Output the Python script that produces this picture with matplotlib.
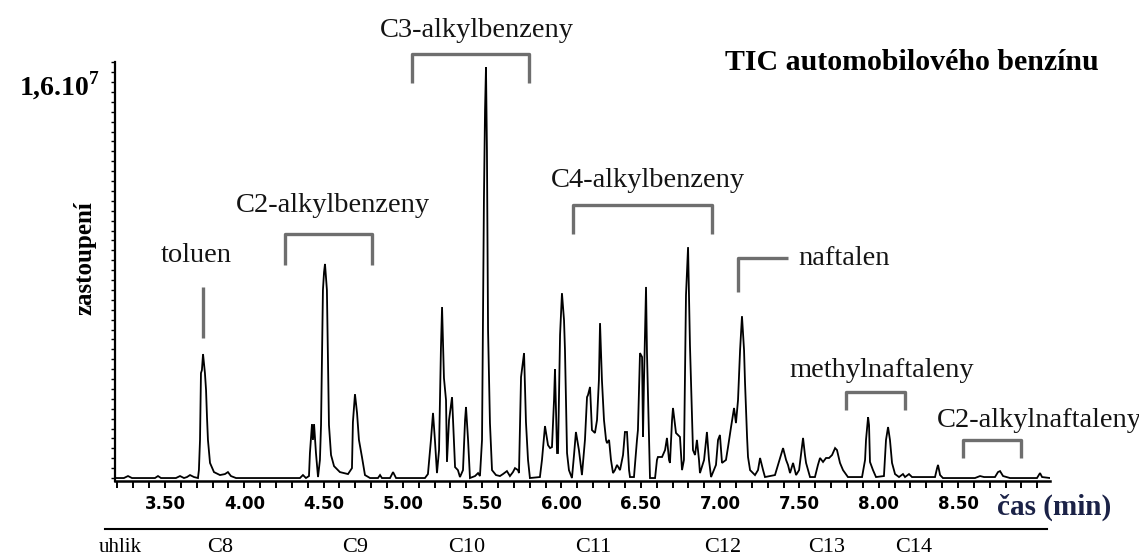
import matplotlib
matplotlib.use("Agg")
import matplotlib.pyplot as plt
from matplotlib.lines import Line2D
from matplotlib.ticker import MultipleLocator, FixedLocator
from matplotlib.transforms import blended_transform_factory

plt.rcParams['font.family'] = ['Liberation Serif', 'DejaVu Serif']
plt.rcParams['mathtext.fontset'] = 'custom'
plt.rcParams['mathtext.rm'] = 'Liberation Serif'
plt.rcParams['mathtext.bf'] = 'Liberation Serif:bold'

# TIC trace of the gasoline sample: retention time [min] and signal [10^6 counts]
time_min = [
    3.185, 3.241, 3.267, 3.292, 3.437, 3.456, 3.475, 3.569, 3.595, 3.620,
    3.639, 3.658, 3.683, 3.708,
    3.714, 3.721, 3.727, 3.733, 3.740, 3.752, 3.759, 3.765, 3.771, 3.784,
    3.809, 3.847, 3.878, 3.897, 3.916, 3.948, 4.351, 4.370, 4.389,
    4.408, 4.414, 4.427, 4.433, 4.440, 4.452, 4.465, 4.477, 4.484, 4.496,
    4.503, 4.509, 4.521, 4.534, 4.547, 4.566, 4.603, 4.654, 4.679, 4.685,
    4.698, 4.711, 4.723, 4.742, 4.761, 4.793, 4.843, 4.856, 4.868, 4.919,
    4.938, 4.957, 5.139,
    5.158, 5.177, 5.190, 5.202, 5.215, 5.228, 5.240, 5.247, 5.259, 5.272,
    5.278, 5.291, 5.310, 5.322, 5.329, 5.347, 5.360, 5.379, 5.392, 5.398,
    5.411, 5.423, 5.455, 5.474, 5.486, 5.499, 5.511, 5.518, 5.524, 5.530,
    5.537, 5.549, 5.562, 5.587, 5.612, 5.631, 5.656, 5.675, 5.694, 5.707,
    5.726, 5.732, 5.745, 5.764, 5.776, 5.789, 5.801, 5.864,
    5.877, 5.896, 5.915, 5.928, 5.940, 5.953, 5.959, 5.972, 5.978, 5.991,
    6.003, 6.016, 6.022, 6.035, 6.047, 6.066, 6.079, 6.091, 6.110, 6.129,
    6.148, 6.161, 6.167, 6.180, 6.192, 6.211, 6.224, 6.236, 6.243, 6.255,
    6.268, 6.281, 6.287, 6.300, 6.312, 6.325, 6.337, 6.350, 6.369, 6.388,
    6.400, 6.413, 6.426, 6.432, 6.457, 6.476, 6.482, 6.495, 6.508, 6.514,
    6.520, 6.533, 6.539, 6.552, 6.558, 6.590, 6.602, 6.608, 6.634, 6.653,
    6.665, 6.678, 6.684, 6.697, 6.703, 6.722, 6.747, 6.760, 6.772, 6.785,
    6.798, 6.810, 6.829, 6.842, 6.854, 6.867, 6.873, 6.899, 6.917, 6.930,
    6.943, 6.974, 6.987, 6.999, 7.012,
    7.037, 7.050, 7.069, 7.088, 7.100, 7.113, 7.126, 7.138, 7.151, 7.157,
    7.170, 7.176, 7.189, 7.220, 7.239, 7.252, 7.271, 7.283, 7.346, 7.371,
    7.384, 7.397, 7.416, 7.428, 7.441, 7.460, 7.479, 7.498, 7.510, 7.523,
    7.535, 7.542, 7.567, 7.598, 7.617, 7.630, 7.649, 7.668, 7.687, 7.706,
    7.725, 7.737, 7.756, 7.775, 7.806,
    7.895, 7.914, 7.920, 7.933, 7.939, 7.945, 7.964, 7.983, 8.033, 8.046,
    8.059, 8.071, 8.084, 8.103, 8.128, 8.153, 8.166, 8.191, 8.210, 8.355,
    8.368, 8.374, 8.387, 8.405, 8.513, 8.607, 8.639, 8.664, 8.733, 8.752,
    8.765, 8.784, 8.828, 8.998, 9.017, 9.030, 9.080,
]
tic = [
    0.00, 0.00, 0.08, 0.00, 0.00, 0.08, 0.00, 0.00, 0.08, 0.00,
    0.04, 0.12, 0.04, 0.00,
    0.32, 1.54, 4.24, 4.36, 5.01, 4.24, 3.56, 2.46, 1.54, 0.61,
    0.24, 0.12, 0.16, 0.24, 0.08, 0.00, 0.00, 0.12, 0.00,
    0.08, 1.01, 2.18, 1.54, 2.18, 1.01, 0.04, 0.73, 2.14, 7.60,
    8.32, 8.65, 7.60, 2.14, 0.93, 0.48, 0.24, 0.16, 0.40, 2.26,
    3.39, 2.63, 1.54, 0.85, 0.12, 0.00, 0.00, 0.12, 0.00, 0.00,
    0.24, 0.00, 0.00,
    0.16, 1.54, 2.63, 1.54, 0.20, 1.13, 5.25, 6.91, 4.04, 3.15,
    0.65, 2.34, 3.27, 1.54, 0.44, 0.32, 0.04, 0.32, 2.34, 2.87,
    1.54, 0.00, 0.08, 0.20, 0.08, 1.54, 11.23, 14.87, 16.60, 13.25,
    5.98, 2.22, 0.32, 0.12, 0.08, 0.16, 0.28, 0.08, 0.24, 0.40,
    0.32, 0.20, 4.08, 5.05, 2.26, 0.73, 0.00, 0.04,
    0.73, 2.10, 1.33, 1.21, 1.25, 3.15, 4.40, 1.01, 1.01, 5.78,
    7.47, 6.38, 5.17, 1.01, 0.32, 0.00, 0.93, 1.86, 1.13, 0.12,
    1.54, 3.27, 3.35, 3.68, 1.94, 1.82, 2.34, 3.96, 6.26, 3.96,
    2.34, 1.54, 1.41, 1.54, 0.73, 0.20, 0.32, 0.53, 0.32, 0.93,
    1.86, 1.86, 0.32, 0.04, 0.04, 1.54, 1.94, 5.05, 4.89, 1.66,
    3.88, 7.72, 5.05, 1.54, 0.00, 0.00, 0.73, 0.85, 0.85, 1.13,
    1.62, 0.73, 0.61, 2.34, 2.83, 1.82, 1.66, 0.32, 0.73, 7.39,
    9.33, 5.37, 1.13, 0.93, 1.54, 0.73, 0.20, 0.73, 1.86, 0.73,
    0.04, 0.53, 1.54, 1.74, 0.61,
    0.73, 1.25, 2.06, 2.83, 2.22, 3.15, 5.17, 6.54, 5.17, 3.88,
    1.66, 0.85, 0.32, 0.12, 0.32, 0.81, 0.32, 0.04, 0.12, 0.65,
    0.93, 1.21, 0.73, 0.53, 0.20, 0.61, 0.12, 0.32, 0.93, 1.62,
    0.93, 0.61, 0.04, 0.04, 0.53, 0.81, 0.65, 0.81, 0.81, 0.93,
    1.21, 1.13, 0.61, 0.32, 0.04,
    0.04, 0.73, 1.54, 2.46, 2.14, 0.65, 0.32, 0.04, 0.08, 1.54,
    2.06, 1.54, 0.61, 0.16, 0.04, 0.16, 0.04, 0.16, 0.04, 0.04,
    0.40, 0.53, 0.12, 0.00, 0.00, 0.00, 0.08, 0.04, 0.04, 0.24,
    0.28, 0.08, 0.00, 0.00, 0.20, 0.04, 0.00,
]

# labelled compound groups and the time windows their brackets span
group_names = ['C2-alkylbenzeny', 'C3-alkylbenzeny', 'C4-alkylbenzeny',
               'methylnaftaleny', 'C2-alkylnaftaleny']
group_start = [4.257, 5.057, 6.073, 7.794, 8.531]
group_end = [4.805, 5.795, 6.949, 8.166, 8.897]

# elution of n-alkanes (carbon number) on the time axis
carbon_labels = ['C8', 'C9', 'C10', 'C11', 'C12', 'C13', 'C14']
carbon_rt = [3.847, 4.698, 5.404, 6.199, 7.018, 7.674, 8.223]

W, H = 1139, 559
fig = plt.figure(figsize=(W / 100, H / 100), dpi=100)
fig.patch.set_facecolor('white')
ax = fig.add_axes([115 / W, 78 / H, 935 / W, 419 / H])

ax.plot(time_min, tic, color='black', lw=1.3, solid_joinstyle='miter')
ax.set_xlim(3.185, 9.08)
ax.set_ylim(-0.12, 16.81)

for side in ('top', 'right'):
    ax.spines[side].set_visible(False)
ax.spines['left'].set_linewidth(1.6)
ax.spines['bottom'].set_linewidth(1.8)

ax.xaxis.set_minor_locator(MultipleLocator(0.1))
ax.set_xticks([3.5, 4.0, 4.5, 5.0, 5.5, 6.0, 6.5, 7.0, 7.5, 8.0, 8.5])
ax.set_xticklabels(['3.50', '4.00', '4.50', '5.00', '5.50', '6.00', '6.50',
                    '7.00', '7.50', '8.00', '8.50'],
                   fontfamily='DejaVu Sans', fontweight='heavy', fontsize=12)
ax.tick_params(axis='x', which='both', direction='out', length=5, width=1.4,
               pad=5)

ax.yaxis.set_major_locator(FixedLocator([16]))
ax.yaxis.set_minor_locator(MultipleLocator(0.4))
ax.set_yticklabels([r'1,6.10$^{\mathbf{7}}$'], fontweight='bold', fontsize=20)
ax.tick_params(axis='y', which='both', direction='out', length=3, width=1.0,
               pad=8)

# group brackets
bracket_kw = dict(color='#6e6e6e', lw=2.4, clip_on=False,
                  solid_capstyle='butt')
bracket_top = [9.86, 17.13, 11.03, 3.47, 1.54]
bracket_leg = [8.61, 15.96, 9.86, 2.75, 0.81]
for x0, x1, top, leg in zip(group_start, group_end, bracket_top, bracket_leg):
    ax.plot([x0, x0, x1, x1], [leg, top, top, leg], **bracket_kw)

text_kw = dict(fontsize=20.5, color='#141414', clip_on=False)
ax.text(4.559, 11.03, group_names[0], ha='center', va='center', **text_kw)
ax.text(5.467, 18.10, group_names[1], ha='center', va='center', **text_kw)
ax.text(6.545, 12.04, group_names[2], ha='center', va='center', **text_kw)
ax.text(8.021, 4.36, group_names[3], ha='center', va='center', **text_kw)
ax.text(8.368, 2.34, group_names[4], ha='left', va='center', **text_kw)

# toluene and naphthalene markers
ax.plot([3.740, 3.740], [5.66, 7.72], **bracket_kw)
ax.text(3.695, 9.01, 'toluen', ha='center', va='center', **text_kw)
ax.plot([7.113, 7.113, 7.428], [7.51, 8.89, 8.89], **bracket_kw)
ax.text(7.491, 8.89, 'naftalen', ha='left', va='center', **text_kw)

ax.text(7.031, 16.81, 'TIC automobilového benzínu', ha='left', va='center',
        fontsize=21.5, fontweight='bold', color='black', clip_on=False)

fig.text(85 / W, 1 - 258 / H, 'zastoupení', rotation=90, ha='center',
         va='center', fontsize=18, fontweight='bold')
fig.text(997 / W, 1 - 507 / H, 'čas (min)', ha='left', va='center',
         fontsize=21, fontweight='bold', color='#1b2247')

# carbon number scale under the time axis
fig.add_artist(Line2D([105 / W, 1047 / W], [1 - 529 / H, 1 - 529 / H],
                      color='black', lw=1.5))
fig.text(120 / W, 1 - 548 / H, 'uhlik', ha='center', va='center', fontsize=15)
carbon_tr = blended_transform_factory(ax.transData, fig.transFigure)
for rt, lab in zip(carbon_rt, carbon_labels):
    ax.text(rt, 1 - 548 / H, lab, transform=carbon_tr, ha='center',
            va='center', fontsize=16, clip_on=False)

fig.savefig('out.png', dpi=100)
